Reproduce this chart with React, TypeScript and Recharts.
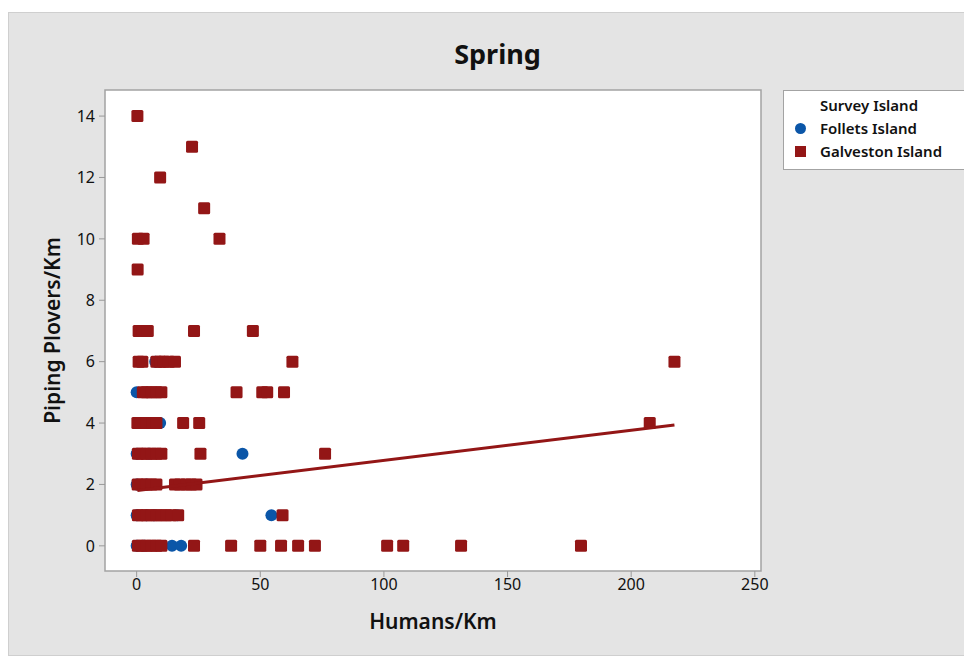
import React from "react";
import {
  ScatterChart,
  Scatter,
  XAxis,
  YAxis,
  ZAxis,
  ReferenceArea,
  Label,
} from "recharts";

// Galveston Island: humans/km vs piping plovers/km
const galvestonX = [
  0.3, 22.4, 9.5, 27.3,
  0.5, 2.8, 33.5,
  0.4,
  0.8, 2.5, 4.5, 23.2, 47,
  0.8, 2.3, 8, 9.5, 11, 13, 15.5, 63, 217.5,
  2.5, 4, 6, 8, 10, 40.4, 50.8, 52.8, 59.6,
  0.3, 2, 4, 6.5, 8, 18.8, 25.3, 207.5,
  0.5, 2, 4, 6, 8, 10, 25.8, 76.2,
  0.4, 2, 4, 6, 8, 15.5, 17.5, 20, 22, 24.2,
  0.5, 2, 4, 6, 8, 10, 12, 14, 16.8, 59,
  0.5, 2, 4, 6, 8, 10, 23.2, 38.2, 50, 58.4, 65.3, 72.1, 101.3, 107.8, 131.2, 179.7,
];
const galvestonY = [
  14, 13, 12, 11,
  10, 10, 10,
  9,
  7, 7, 7, 7, 7,
  6, 6, 6, 6, 6, 6, 6, 6, 6,
  5, 5, 5, 5, 5, 5, 5, 5, 5,
  4, 4, 4, 4, 4, 4, 4, 4,
  3, 3, 3, 3, 3, 3, 3, 3,
  2, 2, 2, 2, 2, 2, 2, 2, 2, 2,
  1, 1, 1, 1, 1, 1, 1, 1, 1, 1,
  0, 0, 0, 0, 0, 0, 0, 0, 0, 0, 0, 0, 0, 0, 0, 0,
];

// Follets Island
const follettsX = [0, 3, 14.3, 18, 0, 4, 7, 16.5, 54.5, 0, 4, 0, 5, 42.8, 4, 9.5, 0, 7.5];
const follettsY = [0, 0, 0, 0, 1, 1, 1, 1, 1, 2, 2, 3, 3, 3, 4, 4, 5, 6];

// fitted line for Galveston (endpoints)
const trendX = [0.3, 217.5];
const trendY = [1.8, 3.94];

const xTicks = [0, 50, 100, 150, 200, 250];
const yTicks = [0, 2, 4, 6, 8, 10, 12, 14];
const xDomain: [number, number] = [-12.8, 252.5];
const yDomain: [number, number] = [-0.82, 14.85];

const RED = "#931616";
const BLUE = "#0b56a8";
const FONT = "'Noto Sans', 'Open Sans', sans-serif";

const zip = (xs: number[], ys: number[]) => xs.map((x, i) => ({ x, y: ys[i] }));
const galveston = zip(galvestonX, galvestonY);
const follets = zip(follettsX, follettsY);
const trend = zip(trendX, trendY);

const Square = (p: any) => (
  <rect x={p.cx - 6} y={p.cy - 6} width={12} height={12} rx={1.5} fill={RED} />
);
const Dot = (p: any) => <circle cx={p.cx} cy={p.cy} r={6} fill={BLUE} />;
const NoShape = () => <g />;

const tickStyle = { fill: "#111", fontSize: 16, fontFamily: FONT };

export default function App() {
  return (
    <div
      style={{
        position: "relative",
        marginTop: 4,
        width: 964,
        height: 644,
        background: "#e4e4e4",
        border: "1px solid #cfcfcf",
        boxSizing: "border-box",
        fontFamily: FONT,
      }}
    >
      <div
        style={{
          position: "absolute",
          left: 0,
          right: 0,
          top: 22,
          paddingLeft: 15,
          textAlign: "center",
          fontSize: 27,
          fontWeight: 700,
          color: "#111",
        }}
      >
        Spring
      </div>
      <ScatterChart
        width={962}
        height={642}
        margin={{ top: 77, right: 210, bottom: 14, left: 26 }}
      >
        <XAxis
          type="number"
          dataKey="x"
          domain={xDomain}
          ticks={xTicks}
          allowDataOverflow
          axisLine={false}
          tickLine={{ stroke: "#9a9a9a" }}
          tickSize={6}
          tickMargin={2}
          tick={tickStyle}
          height={70}
        >
          <Label
            value="Humans/Km"
            position="insideBottom"
            offset={12}
            style={{ fill: "#111", fontSize: 21, fontWeight: 600, fontFamily: FONT }}
          />
        </XAxis>
        <YAxis
          type="number"
          dataKey="y"
          domain={yDomain}
          ticks={yTicks}
          allowDataOverflow
          axisLine={false}
          tickLine={{ stroke: "#9a9a9a" }}
          tickSize={6}
          tickMargin={4}
          tick={tickStyle}
          width={70}
        >
          <Label
            content={({ viewBox }: any) => {
              const cx = viewBox.x + 17;
              const cy = viewBox.y + viewBox.height / 2;
              return (
                <text
                  x={cx}
                  y={cy}
                  transform={`rotate(-90 ${cx} ${cy})`}
                  textAnchor="middle"
                  dominantBaseline="central"
                  style={{ fill: "#111", fontSize: 21, fontWeight: 600, fontFamily: FONT }}
                >
                  Piping Plovers/Km
                </text>
              );
            }}
          />
        </YAxis>
        <ZAxis range={[140, 140]} />
        <ReferenceArea
          x1={xDomain[0]}
          x2={xDomain[1]}
          y1={yDomain[0]}
          y2={yDomain[1]}
          fill="#ffffff"
          fillOpacity={1}
          stroke="#a3a3a3"
          strokeWidth={1.5}
        />
        <Scatter name="Follets Island" data={follets} shape={Dot} isAnimationActive={false} />
        <Scatter name="Galveston Island" data={galveston} shape={Square} isAnimationActive={false} />
        <Scatter
          data={trend}
          line={{ stroke: RED, strokeWidth: 3 }}
          shape={NoShape}
          isAnimationActive={false}
        />
      </ScatterChart>
      <div
        style={{
          position: "absolute",
          left: 774,
          top: 77,
          width: 182,
          height: 80,
          background: "#fff",
          border: "1px solid #a3a3a3",
          boxSizing: "border-box",
          fontSize: 15,
          fontWeight: 600,
          color: "#111",
          lineHeight: "23px",
          paddingTop: 3,
        }}
      >
        <div style={{ paddingLeft: 36 }}>Survey Island</div>
        <div style={{ display: "flex", alignItems: "center" }}>
          <span
            style={{
              display: "inline-block",
              width: 11,
              height: 11,
              borderRadius: "50%",
              background: BLUE,
              marginLeft: 11,
              marginRight: 14,
            }}
          />
          Follets Island
        </div>
        <div style={{ display: "flex", alignItems: "center" }}>
          <span
            style={{
              display: "inline-block",
              width: 11,
              height: 11,
              background: RED,
              marginLeft: 11,
              marginRight: 14,
            }}
          />
          Galveston Island
        </div>
      </div>
    </div>
  );
}
